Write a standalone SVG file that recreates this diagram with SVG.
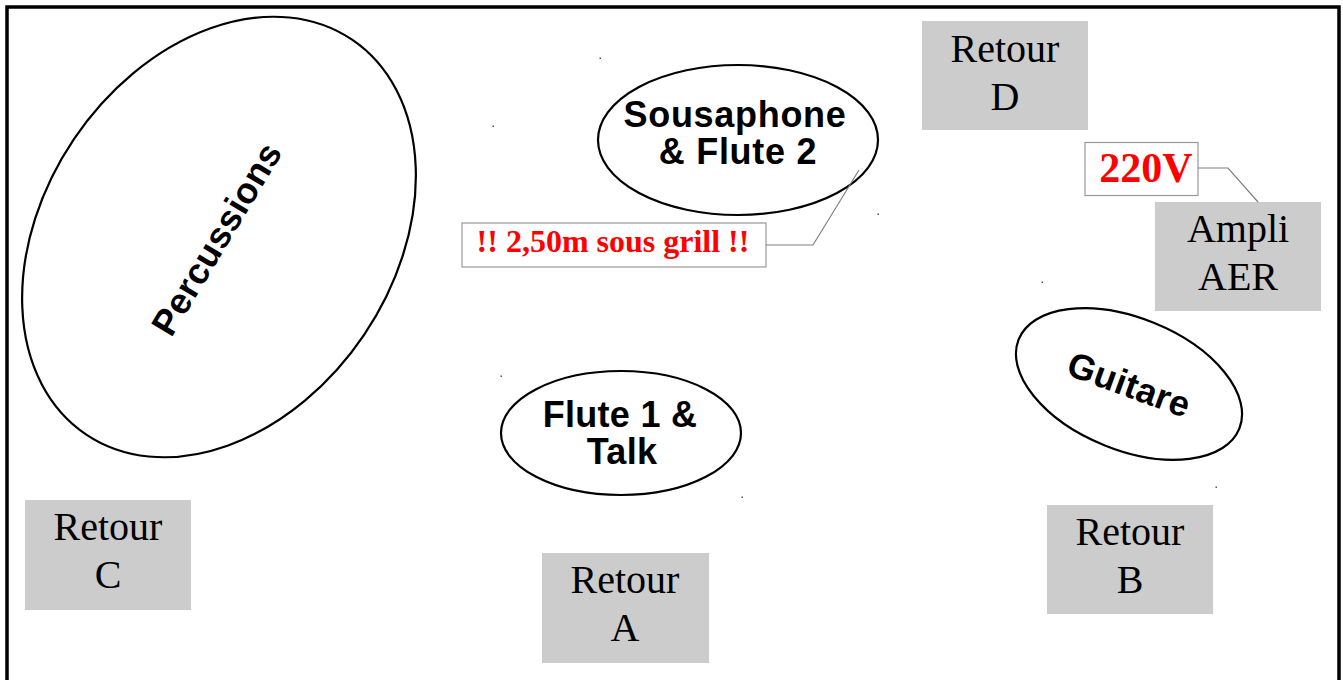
<svg xmlns="http://www.w3.org/2000/svg" width="1343" height="680" viewBox="0 0 1343 680">
<style>
.ell{fill:#fff;stroke:#000;stroke-width:2.2}
.lbl{font-family:"Liberation Sans",Arial,sans-serif;font-weight:bold;font-size:36px;fill:#000;text-anchor:middle}
.box{fill:#cccccc;stroke:none}
.ret{font-family:"Liberation Serif","Times New Roman",serif;font-size:40px;fill:#000;text-anchor:middle}
.note{fill:#fff;stroke:#999;stroke-width:1.2}
.red{font-family:"Liberation Serif","Times New Roman",serif;font-weight:bold;fill:#ff0000;text-anchor:middle}
.conn{fill:none;stroke:#808080;stroke-width:1.2}
.dot{fill:#555}
</style>
<rect x="0" y="0" width="1343" height="680" fill="#fff"/>
<rect id="stage" x="7" y="7" width="1332" height="700" fill="none" stroke="#000" stroke-width="3.5"/>

<g id="percussions">
<ellipse class="ell" cx="219" cy="237" rx="238" ry="175" transform="rotate(-56 219 237)"/>
<text class="lbl" x="217" y="251" font-size="35" letter-spacing="0.3" transform="rotate(-59 217 239)">Percussions</text>
</g>

<g id="sousaphone">
<ellipse class="ell" cx="738" cy="140" rx="140" ry="75"/>
<text class="lbl" x="735" y="127" letter-spacing="0.7">Sousaphone</text>
<text class="lbl" x="738" y="164" letter-spacing="0.7">&amp; Flute 2</text>
</g>

<g id="flute1">
<ellipse class="ell" cx="621" cy="433" rx="120" ry="62"/>
<text class="lbl" x="620" y="427" letter-spacing="0.3">Flute 1 &amp;</text>
<text class="lbl" x="622" y="464" letter-spacing="0.3">Talk</text>
</g>

<g id="guitare">
<ellipse class="ell" cx="1129" cy="384" rx="119" ry="66" transform="rotate(22 1129 384)"/>
<text class="lbl" x="1129" y="397" font-size="35" letter-spacing="0.3" transform="rotate(20 1129 385)">Guitare</text>
</g>

<g id="retourD">
<rect class="box" x="922" y="21" width="166" height="109"/>
<text class="ret" x="1005" y="62">Retour</text>
<text class="ret" x="1005" y="110">D</text>
</g>

<g id="ampli">
<rect class="box" x="1155" y="202" width="166" height="109"/>
<text class="ret" x="1238" y="242">Ampli</text>
<text class="ret" x="1238" y="290">AER</text>
</g>

<g id="retourB">
<rect class="box" x="1047" y="505" width="166" height="109"/>
<text class="ret" x="1130" y="545">Retour</text>
<text class="ret" x="1130" y="593">B</text>
</g>

<g id="retourA">
<rect class="box" x="542" y="553" width="167" height="110"/>
<text class="ret" x="625" y="593">Retour</text>
<text class="ret" x="625" y="641">A</text>
</g>

<g id="retourC">
<rect class="box" x="25" y="500" width="166" height="110"/>
<text class="ret" x="108" y="540">Retour</text>
<text class="ret" x="108" y="588">C</text>
</g>

<g id="note220">
<rect class="note" x="1085" y="142.5" width="113" height="53"/>
<text class="red" x="1146" y="182" font-size="42">220V</text>
</g>

<g id="noteGrill">
<rect class="note" x="462" y="223" width="304" height="44"/>
<text class="red" x="613" y="252" font-size="32">!! 2,50m sous grill !!</text>
</g>

<g id="connectors">
<polyline class="conn" points="1198,168 1228,168 1258,202"/>
<polyline class="conn" points="766,245 813,245 859,170"/>
</g>

<g id="specks">
<rect class="dot" x="599.5" y="57.5" width="1.5" height="1.5"/>
<rect class="dot" x="492.5" y="125.5" width="1.5" height="1.5"/>
<rect class="dot" x="877.5" y="213.5" width="1.5" height="1.5"/>
<rect class="dot" x="1041.5" y="281.5" width="1.5" height="1.5"/>
<rect class="dot" x="500.5" y="375.5" width="1.5" height="1.5"/>
<rect class="dot" x="741.5" y="496.5" width="1.5" height="1.5"/>
<rect class="dot" x="1215.5" y="486.5" width="1.5" height="1.5"/>
</g>
</svg>
